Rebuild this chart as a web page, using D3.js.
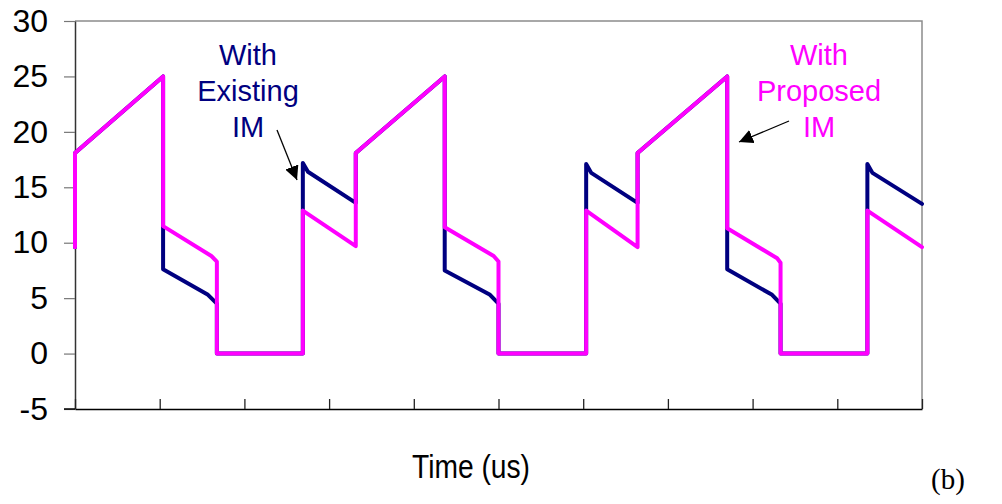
<!DOCTYPE html>
<html lang="en">
<head>
<meta charset="UTF-8">
<title>Time (us)</title>
<script src="https://d3js.org/d3.v7.min.js"></script>
<style>
  body { margin: 0; background: #fff; }
  svg { display: block; font-family: Arial, "Liberation Sans", sans-serif; }
</style>
</head>
<body>
<svg id="chart" width="1002" height="504"></svg>
<script>
// time axis runs over 10 tick intervals
var xTicks = [0, 1, 2, 3, 4, 5, 6, 7, 8, 9, 10];
var yTicks = [-5, 0, 5, 10, 15, 20, 25, 30];

// With Existing IM (navy)
var existingT = [0, 0, 1.04, 1.04, 1.57, 1.675, 1.675, 2.69, 2.69, 2.75, 3.315, 3.315, 4.365, 4.365, 4.9, 5.0, 5.0, 6.035, 6.035, 6.095, 6.642, 6.642, 7.70, 7.70, 8.23, 8.33, 8.33, 9.355, 9.355, 9.415, 10];
var existingV = [9.6, 18.1, 25, 7.6, 5.3, 4.5, 0, 0, 17.2, 16.4, 13.6, 18.1, 25, 7.5, 5.3, 4.5, 0, 0, 17.1, 16.3, 13.6, 18.1, 25, 7.6, 5.3, 4.5, 0, 0, 17.1, 16.3, 13.5];

// With Proposed IM (magenta)
var proposedT = [0, 0, 1.04, 1.04, 1.61, 1.675, 1.675, 2.69, 2.69, 3.315, 3.315, 4.365, 4.365, 4.943, 5.0, 5.0, 6.035, 6.035, 6.642, 6.642, 7.70, 7.70, 8.29, 8.33, 8.33, 9.355, 9.355, 10];
var proposedV = [9.6, 18.1, 25, 11.5, 8.8, 8.3, 0, 0, 12.9, 9.7, 18.1, 25, 11.4, 8.8, 8.3, 0, 0, 12.9, 9.6, 18.1, 25, 11.3, 8.6, 8.2, 0, 0, 12.9, 9.6];

var svg = d3.select("#chart");
var margin = {top: 21, right: 80, bottom: 95, left: 75};
var width = 1002 - margin.left - margin.right,   // 847
    height = 504 - margin.top - margin.bottom;   // 388

var g = svg.append("g")
  .attr("transform", "translate(" + margin.left + "," + margin.top + ")");

var x = d3.scaleLinear().domain([0, 10]).range([0, width]);
var y = d3.scaleLinear().domain([-5, 30]).range([height, 0]);

// plot frame (top + right, grey)
g.append("path")
  .attr("d", "M0,0H" + width + "V" + height)
  .attr("fill", "none")
  .attr("stroke", "#8c8c8c")
  .attr("stroke-width", 1.5);

// y axis
var yAxis = g.append("g")
  .call(d3.axisLeft(y).tickValues(yTicks).tickSizeInner(11).tickSizeOuter(0).tickPadding(16)
    .tickFormat(function(d) { return String(d); }));
yAxis.select(".domain").attr("stroke", "#333").attr("stroke-width", 1.5);
yAxis.selectAll(".tick line").attr("stroke", "#777").attr("stroke-width", 1.2);
yAxis.selectAll(".tick text")
  .attr("font-size", 32)
  .attr("font-family", "Arial, 'Liberation Sans', sans-serif")
  .attr("fill", "#000");

// x axis, ticks pointing up, no labels
var xAxis = g.append("g")
  .attr("transform", "translate(0," + height + ")")
  .call(d3.axisBottom(x).tickValues(xTicks).tickSizeInner(-10).tickSizeOuter(0).tickFormat(""));
xAxis.select(".domain").attr("stroke", "#000").attr("stroke-width", 1.5);
xAxis.selectAll(".tick line").attr("stroke", "#222").attr("stroke-width", 1.3);
// extend baseline left to the -5 tick
g.append("line")
  .attr("x1", -11).attr("x2", 0).attr("y1", height).attr("y2", height)
  .attr("stroke", "#000").attr("stroke-width", 1.5);

var line = d3.line()
  .x(function(d) { return x(d[0]); })
  .y(function(d) { return y(d[1]); });

var existing = existingT.map(function(t, i) { return [t, existingV[i]]; });
var proposed = proposedT.map(function(t, i) { return [t, proposedV[i]]; });

g.append("path")
  .datum(existing)
  .attr("d", line)
  .attr("fill", "none")
  .attr("stroke", "#000080")
  .attr("stroke-width", 4)
  .attr("stroke-linejoin", "round")
  .attr("stroke-linecap", "round");

g.append("path")
  .datum(proposed)
  .attr("d", line)
  .attr("fill", "none")
  .attr("stroke", "#ff00ff")
  .attr("stroke-width", 4)
  .attr("stroke-linejoin", "round")
  .attr("stroke-linecap", "round");

// annotations
function label(lines, cx, color) {
  svg.append("text")
    .attr("text-anchor", "middle")
    .attr("font-size", 29)
    .attr("fill", color)
    .selectAll("tspan")
    .data(lines)
    .join("tspan")
      .attr("x", cx)
      .attr("y", function(d, i) { return 65 + i * 36; })
      .text(function(d) { return d; });
}
label(["With", "Existing", "IM"], 248, "#000080");
label(["With", "Proposed", "IM"], 819, "#ff00ff");

svg.append("defs").append("marker")
  .attr("id", "head")
  .attr("viewBox", "0 0 10 10")
  .attr("refX", 10).attr("refY", 5)
  .attr("markerWidth", 14).attr("markerHeight", 14)
  .attr("markerUnits", "userSpaceOnUse")
  .attr("orient", "auto")
  .append("path")
    .attr("d", "M0,0L10,5L0,10z")
    .attr("fill", "#000");

svg.append("line")
  .attr("x1", 277).attr("y1", 130).attr("x2", 297).attr("y2", 180)
  .attr("stroke", "#000").attr("stroke-width", 1.3)
  .attr("marker-end", "url(#head)");
svg.append("line")
  .attr("x1", 789).attr("y1", 121).attr("x2", 739).attr("y2", 142)
  .attr("stroke", "#000").attr("stroke-width", 1.3)
  .attr("marker-end", "url(#head)");

// axis title
svg.append("text")
  .attr("x", 412).attr("y", 478)
  .attr("font-size", 33)
  .attr("textLength", 118)
  .attr("lengthAdjust", "spacingAndGlyphs")
  .attr("fill", "#000")
  .text("Time (us)");

svg.append("text")
  .attr("x", 931).attr("y", 489)
  .attr("font-size", 29)
  .attr("font-family", "'Liberation Serif', 'Times New Roman', serif")
  .attr("fill", "#000")
  .text("(b)");
</script>
</body>
</html>
